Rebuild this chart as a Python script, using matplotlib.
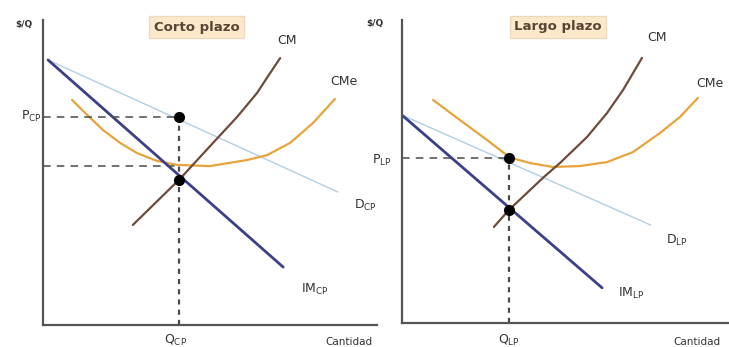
import matplotlib
matplotlib.use("Agg")
import matplotlib.pyplot as plt

plt.rcParams['font.family'] = ['DejaVu Sans']
plt.rcParams['mathtext.default'] = 'regular'

# ---------------- data (arbitrary units, 0..10 on both axes) ----------------
# Short run (Corto plazo)
cp_demand_x = [0.15, 8.83]
cp_demand_y = [8.69, 4.36]
cp_im_x = [0.15, 7.19]
cp_im_y = [8.69, 1.90]
cp_cm_x = [2.69, 4.10, 5.09, 5.81, 6.41, 6.80, 7.10]
cp_cm_y = [3.28, 4.79, 5.97, 6.82, 7.61, 8.26, 8.75]
cp_cme_x = [0.87, 1.32, 1.80, 2.31, 2.81, 3.41, 4.01, 5.00, 6.11, 6.71, 7.40, 8.08, 8.74]
cp_cme_y = [7.38, 6.89, 6.39, 5.97, 5.64, 5.38, 5.25, 5.21, 5.41, 5.57, 5.97, 6.62, 7.41]
cp_q = 4.08
cp_p = 6.82
cp_cost = 5.21
cp_mc = 4.77

# Long run (Largo plazo)
lp_demand_x = [0.0, 7.61]
lp_demand_y = [6.86, 3.23]
lp_im_x = [0.0, 6.12]
lp_im_y = [6.86, 1.16]
lp_cm_x = [2.81, 3.27, 4.31, 4.83, 5.66, 6.27, 6.76, 7.34]
lp_cm_y = [3.17, 3.73, 4.79, 5.28, 6.14, 6.93, 7.69, 8.75]
lp_cme_x = [0.95, 1.77, 2.60, 3.30, 3.91, 4.62, 5.44, 6.27, 7.06, 7.89, 8.50, 9.05]
lp_cme_y = [7.36, 6.70, 6.04, 5.46, 5.28, 5.15, 5.18, 5.31, 5.64, 6.27, 6.80, 7.43]
lp_q = 3.27
lp_p = 5.43
lp_mc = 3.73

# ---------------- styles ----------------
C_DEM = '#b3cfe2'
C_IM = '#3c3f8a'
C_CM = '#6e4c3b'
C_CME = '#e8a43c'
C_AX = '#555555'
C_TXT = '#333333'
C_DASH = '#4a4a4a'

W, H = 729, 347
fig = plt.figure(figsize=(W / 100, H / 100), dpi=100)
fig.patch.set_facecolor('white')

ax1 = fig.add_axes([43 / W, (H - 325) / H, 334 / W, 305 / H])
ax2 = fig.add_axes([402 / W, (H - 323) / H, 327 / W, 303 / H])

for ax in (ax1, ax2):
    ax.set_xlim(0, 10)
    ax.set_ylim(0, 10)
    for s in ('top', 'right'):
        ax.spines[s].set_visible(False)
    for s in ('left', 'bottom'):
        ax.spines[s].set_color(C_AX)
        ax.spines[s].set_linewidth(1.6)
    ax.set_xticks([])
    ax.set_yticks([])
    ax.patch.set_alpha(0)

fs = 9
sub_kw = dict(color=C_TXT, fontsize=fs, ha='center', va='center', clip_on=False)


def panel(ax, dx, dy, imx, imy, cmx, cmy, cmex, cmey, q, p, mc, cost,
          labels, title, title_xy):
    ax.plot(dx, dy, color=C_DEM, lw=1.0, solid_capstyle='round')
    ax.plot(cmex, cmey, color=C_CME, lw=1.6, solid_capstyle='round',
            solid_joinstyle='round')
    ax.plot(cmx, cmy, color=C_CM, lw=1.6, solid_capstyle='round',
            solid_joinstyle='round')
    ax.plot(imx, imy, color=C_IM, lw=2.0, solid_capstyle='round')
    # dashed guides
    ax.plot([0, q], [p, p], ls=(0, (5, 4)), color=C_DASH, lw=1.1)
    if cost is not None:
        ax.plot([0, q], [cost, cost], ls=(0, (5, 4)), color=C_DASH, lw=1.1)
    ax.plot([q, q], [0, p], ls=(0, (2.3, 2.3)), color=C_DASH, lw=1.6)
    ax.plot([q, q], [p, mc], 'o', color='black', ms=7)
    for txt, (x, y), kw in labels:
        d = dict(sub_kw)
        d.update(kw)
        ax.text(x, y, txt, **d)
    ax.text(title_xy[0], title_xy[1], title, fontsize=9.5, fontweight='bold',
            color='#5a4434', ha='center', va='center', clip_on=False,
            bbox=dict(boxstyle='square,pad=0.35', fc='#fde8cb', ec='#efd9bd', lw=1))


panel(ax1, cp_demand_x, cp_demand_y, cp_im_x, cp_im_y, cp_cm_x, cp_cm_y,
      cp_cme_x, cp_cme_y, cp_q, cp_p, cp_mc, cp_cost,
      [('$/Q', (-0.57, 9.84), dict(fontsize=6.5, fontweight='bold')),
       ('P$_{CP}$', (-0.03, 6.85), dict(ha='right')),
       ('Q$_{CP}$', (3.98, -0.52), {}),
       ('Cantidad', (9.16, -0.56), dict(fontsize=7.5)),
       ('CM', (7.31, 9.34), {}),
       ('CMe', (9.01, 7.97), {}),
       ('D$_{CP}$', (9.64, 3.93), {}),
       ('IM$_{CP}$', (8.14, 1.15), {})],
      'Corto plazo', (4.61, 9.77))

panel(ax2, lp_demand_x, lp_demand_y, lp_im_x, lp_im_y, lp_cm_x, lp_cm_y,
      lp_cme_x, lp_cme_y, lp_q, lp_p, lp_mc, None,
      [('$/Q', (-0.83, 9.87), dict(fontsize=6.5, fontweight='bold')),
       ('P$_{LP}$', (-0.31, 5.38), dict(ha='right')),
       ('Q$_{LP}$', (3.27, -0.59), {}),
       ('Cantidad', (9.02, -0.63), dict(fontsize=7.5)),
       ('CM', (7.80, 9.41), {}),
       ('CMe', (9.42, 7.92), {}),
       ('D$_{LP}$', (8.41, 2.74), {}),
       ('IM$_{LP}$', (7.00, 0.96), {})],
      'Largo plazo', (4.77, 9.77))

fig.savefig('out.png', dpi=100, facecolor='white')
